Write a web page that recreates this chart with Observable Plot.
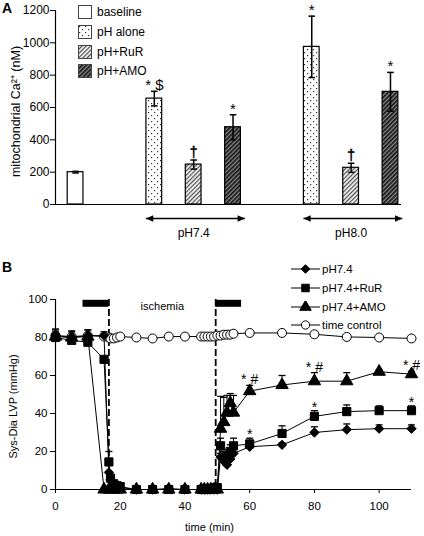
<!DOCTYPE html>
<html><head><meta charset="utf-8">
<script src="https://cdn.jsdelivr.net/npm/d3@7"></script>
<script src="https://cdn.jsdelivr.net/npm/@observablehq/plot@0.6"></script>
<style>
body{margin:0;background:#fff;}
#wrap{position:relative;width:424px;height:536px;overflow:hidden;font-family:"Liberation Sans",Arial,sans-serif;color:#000;}
.panel{position:absolute;left:0;}
.plabel{position:absolute;font-weight:bold;font-size:14px;line-height:14px;}
.legA{position:absolute;left:78px;height:14px;display:flex;align-items:center;font-size:12px;}
.legA span{margin-left:5px;}
.legB{position:absolute;left:290px;height:12px;display:flex;align-items:center;font-size:11.5px;}
.legB span{margin-left:1px;}
</style></head><body>
<svg width="0" height="0" style="position:absolute">
<defs>
<pattern id="pDots" width="6" height="6" patternUnits="userSpaceOnUse">
<rect width="6" height="6" fill="white"/>
<rect x="1" y="1" width="1.2" height="1.2" fill="#333"/>
<rect x="4" y="4" width="1.2" height="1.2" fill="#333"/>
</pattern>
<pattern id="pRuR" width="3" height="3" patternUnits="userSpaceOnUse" patternTransform="rotate(45)">
<rect width="3" height="3" fill="#f2f2f2"/>
<line x1="0.6" y1="0" x2="0.6" y2="3" stroke="#444" stroke-width="1.1"/>
</pattern>
<pattern id="pAMO" width="3" height="3" patternUnits="userSpaceOnUse" patternTransform="rotate(45)">
<rect width="3" height="3" fill="#8a8a8a"/>
<line x1="0.8" y1="0" x2="0.8" y2="3" stroke="#111" stroke-width="1.7"/>
</pattern>
</defs></svg>
<div id="wrap"></div>
<script>
// ---------- Panel A data ----------
const treatments = ["baseline", "pH alone", "pH+RuR", "pH+AMO"];
const phGroups = ["pH7.4", "pH8.0"];
const barGroup = ["baseline", "pH7.4", "pH7.4", "pH7.4", "pH8.0", "pH8.0", "pH8.0"];
const barTreatment = ["baseline", "pH alone", "pH+RuR", "pH+AMO", "pH alone", "pH+RuR", "pH+AMO"];
const caMean = [200, 655, 247, 478, 975, 227, 697];
const caSem = [5, 45, 28, 77, 190, 28, 120];
const caSig = ["", "* $", "†", "*", "*", "†", "*"];
const caTicks = [0, 200, 400, 600, 800, 1000, 1200];

// ---------- Panel B data ----------
const time = [0, 5, 10, 15, 16.5, 17, 18, 19, 20, 25, 30, 35, 40, 45, 46, 47, 48, 49, 50, 51, 52, 53, 54, 55, 60, 70, 80, 90, 100, 110];
const lvp74 = [81, 80, 81, 81, 9, 5, 3, 2, 1, 0, 0, 0.5, 0, 0, 0, 0, 0, 0, 0, 17, 15, 13, 16, 19, 22.5, 23.5, 30, 31.5, 32, 32];
const err74 = [3.5, 3, 3, 2, 0, 0, 0, 0, 0, 0, 0, 0, 0, 0, 0, 0, 0, 0, 0, 2, 2, 2, 2, 2, 1.5, 1, 3, 3, 2, 2];
const lvpRuR = [80, 78.5, 77.5, 68.5, 14.5, 6, 3, 2, 1.5, 0, 0, 0, 0, 0, 0, 0, 0.5, 1, 1, 23, 17, 18, 20, 23, 24, 29.5, 38.5, 41, 41.5, 41.5];
const errRuR = [3, 2.5, 3.5, 0, 5.5, 0, 0, 0, 0, 0, 0, 0, 0, 0, 0, 0, 0, 0, 0, 4, 3, 3, 3.5, 4, 3, 4, 3, 3.5, 2.5, 2.5];
const lvpAMO = [80.5, 80, 80.5, 0, 0, 0, 0, 0, 0, 0, 0, 0, 0, 0, 0, 0, 0, 0, 0, 32, 35.5, 40.5, 45.5, 40.5, 51.8, 55, 57, 57, 62, 60.7];
const errAMO = [3.5, 3.5, 3.5, 0, 0, 0, 0, 0, 0, 0, 0, 0, 0, 0, 0, 0, 0, 0, 0, 17, 13, 9, 5, 9, 3, 5, 4.5, 4.5, 1, 1.5];
const lvpCtrl = [81, 80.5, 81, 80.5, 80, 79.5, 79.5, 80, 80.5, 80, 79.5, 80.5, 80.5, 80.5, 80.5, 80.5, 80.5, 80.5, 81, 81, 81.5, 81.5, 81.5, 82, 82.4, 82.4, 81.7, 80.3, 80, 79.5];
const seriesNames = ["pH7.4", "pH7.4+RuR", "pH7.4+AMO", "time control"];
const ischemiaEdges = [16.5, 49.5];
const perfusionStart = [8.5, 49.5];
const perfusionEnd = [16.5, 57.5];
const sigTimes = [60, 80, 110];
const amoSig = ["* #", "* #", "* #"];
const rurSig = ["*", "*", "*"];
const timeTicks = [0, 20, 40, 60, 80, 100];
const lvpTicks = [0, 20, 40, 60, 80, 100];

// ---------- helpers ----------
const FONT = "'Liberation Sans', Arial, sans-serif";
const capSymbol = {draw(ctx, size) { const r = Math.sqrt(size / Math.PI); ctx.moveTo(-r, 0); ctx.lineTo(r, 0); }};
const headRight = {draw(ctx, size) { const r = Math.sqrt(size / Math.PI); ctx.moveTo(0, 0); ctx.lineTo(-2 * r, -0.9 * r); ctx.lineTo(-2 * r, 0.9 * r); ctx.closePath(); }};
const headLeft = {draw(ctx, size) { const r = Math.sqrt(size / Math.PI); ctx.moveTo(0, 0); ctx.lineTo(2 * r, -0.9 * r); ctx.lineTo(2 * r, 0.9 * r); ctx.closePath(); }};
const fillOf = {"baseline": "white", "pH alone": "url(#pDots)", "pH+RuR": "url(#pRuR)", "pH+AMO": "url(#pAMO)"};
const plain = d => String(d);

const wrap = document.getElementById("wrap");

// ---------- Panel A ----------
const slotOf = i => i + (barGroup[i] !== "baseline" ? 1 : 0) + (barGroup[i] === "pH8.0" ? 1 : 0);
const barsA = caMean.map((v, i) => ({group: barGroup[i], treat: barTreatment[i], mean: v, sem: caSem[i], sig: caSig[i], pos: slotOf(i)}));
const spans = phGroups.map(g => {
  const ps = barsA.filter(d => d.group === g).map(d => d.pos);
  return {group: g, lo: d3.min(ps), hi: d3.max(ps)};
});
const xDomA = [-0.51, 8.28];
const hw = 0.2;
const isDagger = d => d.sig.includes("†");

const plotA = Plot.plot({
  width: 424, height: 250,
  marginLeft: 55, marginRight: 23, marginTop: 10, marginBottom: 46,
  style: {fontFamily: FONT, fontSize: "12px", background: "transparent", color: "black"},
  x: {domain: xDomA, axis: null},
  y: {domain: [0, 1200]},
  marks: [
    Plot.axisY({ticks: caTicks, tickFormat: plain, tickSize: 5, tickPadding: 1, label: null, fontSize: 12}),
    ...treatments.map(t => Plot.rect(barsA.filter(d => d.treat === t), {
      x1: d => d.pos - hw, x2: d => d.pos + hw, y1: () => 0, y2: "mean",
      fill: fillOf[t], stroke: "black", strokeWidth: 1.2
    })),
    Plot.ruleX(barsA, {x: "pos", y1: d => d.mean - d.sem, y2: d => d.mean + d.sem, stroke: "black", strokeWidth: 1.5}),
    Plot.dot(barsA, {x: "pos", y: d => d.mean + d.sem, symbol: capSymbol, r: 3.3, stroke: "black", fill: "none", strokeWidth: 1.5}),
    Plot.dot(barsA, {x: "pos", y: d => d.mean - d.sem, symbol: capSymbol, r: 3.3, stroke: "black", fill: "none", strokeWidth: 1.5}),
    Plot.text(barsA.filter(d => d.sig && !isDagger(d)), {x: "pos", y: d => d.mean + d.sem, text: "sig", lineAnchor: "bottom", dy: -1, fontSize: 15, fill: "black"}),
    Plot.text(barsA.filter(isDagger), {x: "pos", y: d => d.mean + d.sem, text: "sig", lineAnchor: "bottom", dy: -3, fontSize: 14, fill: "black", stroke: "black", strokeWidth: 0.5}),
    Plot.ruleY([0], {stroke: "black", strokeWidth: 1.2}),
    Plot.ruleX([xDomA[0]], {stroke: "black", strokeWidth: 1.2}),
    Plot.link(spans, {x1: d => d.lo - 0.21, x2: d => d.hi + 0.3, y1: () => 0, y2: () => 0, dy: 14, stroke: "black", strokeWidth: 1.5}),
    Plot.dot(spans, {x: d => d.lo - 0.21, y: () => 0, dy: 14, symbol: headLeft, r: 3.6, fill: "black", stroke: "none"}),
    Plot.dot(spans, {x: d => d.hi + 0.3, y: () => 0, dy: 14, symbol: headRight, r: 3.6, fill: "black", stroke: "none"}),
    Plot.text(spans, {x: d => (d.lo + d.hi) / 2, y: () => 0, text: "group", dy: 29, fontSize: 12}),
    Plot.text(["mitochondrial Ca²⁺ (nM)"], {frameAnchor: "left", textAnchor: "middle", lineAnchor: "middle", rotate: -90, dx: -40, dy: 4, fontSize: 12.5})
  ]
});
const divA = document.createElement("div");
divA.className = "panel"; divA.style.top = "0px";
divA.appendChild(plotA);
wrap.appendChild(divA);

// ---------- Panel B ----------
const seriesDefs = [
  {name: seriesNames[3], vals: lvpCtrl, errs: null, symbol: "circle", fill: "white", r: 4.5},
  {name: seriesNames[0], vals: lvp74, errs: err74, symbol: "diamond2", fill: "black", r: 4.2},
  {name: seriesNames[1], vals: lvpRuR, errs: errRuR, symbol: "square", fill: "black", r: 4.6},
  {name: seriesNames[2], vals: lvpAMO, errs: errAMO, symbol: "triangle", fill: "black", r: 4.6}
];
const rowsOf = s => time.map((t, i) => ({t, v: s.vals[i], e: s.errs ? s.errs[i] : 0}));
const errRows = seriesDefs.flatMap(s => rowsOf(s).filter(d => d.e > 0));
const perfusion = perfusionStart.map((s, i) => ({s, e: perfusionEnd[i]}));
const sigRows = (vals, errs, labels) => sigTimes.map((t, k) => { const i = time.indexOf(t); return {t, y: vals[i] + errs[i], label: labels[k]}; });

const plotB = Plot.plot({
  width: 424, height: 286,
  marginLeft: 55, marginRight: 13, marginTop: 49, marginBottom: 47,
  style: {fontFamily: FONT, fontSize: "11px", background: "transparent", color: "black"},
  x: {domain: [0, 110]},
  y: {domain: [0, 100]},
  marks: [
    Plot.axisX({ticks: timeTicks, tickFormat: plain, tickSize: 4, tickPadding: 8, label: null, fontSize: 11.5}),
    Plot.axisY({ticks: lvpTicks, tickFormat: plain, tickSize: 5, tickPadding: 3, label: null, fontSize: 11.5}),
    Plot.ruleX(ischemiaEdges, {stroke: "black", strokeWidth: 1.8, strokeDasharray: "7,3"}),
    Plot.ruleY(perfusion, {x1: "s", x2: "e", y: () => 98, stroke: "black", strokeWidth: 7}),
    Plot.text(["ischemia"], {x: () => d3.mean(ischemiaEdges), y: () => 96.5, fontSize: 11}),
    ...seriesDefs.map(s => Plot.line(rowsOf(s), {x: "t", y: "v", stroke: "black", strokeWidth: 1})),
    Plot.ruleX(errRows, {x: "t", y1: "v", y2: d => d.v + d.e, stroke: "black", strokeWidth: 1}),
    Plot.dot(errRows, {x: "t", y: d => d.v + d.e, symbol: capSymbol, r: 3.5, stroke: "black", fill: "none", strokeWidth: 1.3}),
    ...seriesDefs.map(s => Plot.dot(rowsOf(s), {x: "t", y: "v", symbol: s.symbol, r: s.r, fill: s.fill, stroke: "black", strokeWidth: 1})),
    Plot.text(sigRows(lvpAMO, errAMO, amoSig), {x: "t", y: "y", text: "label", lineAnchor: "bottom", dy: -1, fontSize: 14}),
    Plot.text(sigRows(lvpRuR, errRuR, rurSig), {x: "t", y: "y", text: "label", lineAnchor: "bottom", dy: 1, fontSize: 14}),
    Plot.ruleX([0], {stroke: "black", strokeWidth: 1.2}),
    Plot.ruleY([0], {stroke: "black", strokeWidth: 1.2}),
    Plot.text(["Sys-Dia LVP (mmHg)"], {frameAnchor: "left", textAnchor: "middle", lineAnchor: "middle", rotate: -90, dx: -42, dy: 12, fontSize: 11}),
    Plot.text(["time (min)"], {frameAnchor: "bottom", textAnchor: "middle", lineAnchor: "middle", dx: -24, dy: 38, fontSize: 11})
  ]
});
const divB = document.createElement("div");
divB.className = "panel"; divB.style.top = "250px";
divB.appendChild(plotB);
wrap.appendChild(divB);

// ---------- panel letters ----------
[["A", 1, 2], ["B", 260, 2]].forEach(([t, top, left]) => {
  const d = document.createElement("div");
  d.className = "plabel"; d.textContent = t; d.style.top = top + "px"; d.style.left = left + "px";
  wrap.appendChild(d);
});

// ---------- legend A ----------
const legATop = [12.3, 32, 51.5, 71];
treatments.forEach((t, i) => {
  const d = document.createElement("div");
  d.className = "legA"; d.style.top = (legATop[i] - 7) + "px";
  d.innerHTML = `<svg width="14" height="14"><rect x="0.5" y="0.5" width="13" height="13" fill="${fillOf[t]}" stroke="#444" stroke-width="1"/></svg><span>${t}</span>`;
  wrap.appendChild(d);
});

// ---------- legend B ----------
const legBOrder = [1, 2, 3, 0];
const symMap = {circle: d3.symbolCircle, diamond2: d3.symbolDiamond2, square: d3.symbolSquare, triangle: d3.symbolTriangle};
legBOrder.forEach((k, i) => {
  const s = seriesDefs[k];
  const d = document.createElement("div");
  d.className = "legB"; d.style.top = (263 + 18.8 * i) + "px";
  const path = d3.symbol(symMap[s.symbol], Math.PI * s.r * s.r * 0.85)();
  d.innerHTML = `<svg width="31" height="12"><line x1="1" y1="6" x2="30" y2="6" stroke="black" stroke-width="1"/><path transform="translate(15.5,6)" d="${path}" fill="${s.fill}" stroke="black" stroke-width="1"/></svg><span>${s.name}</span>`;
  wrap.appendChild(d);
});
</script>
</body></html>
